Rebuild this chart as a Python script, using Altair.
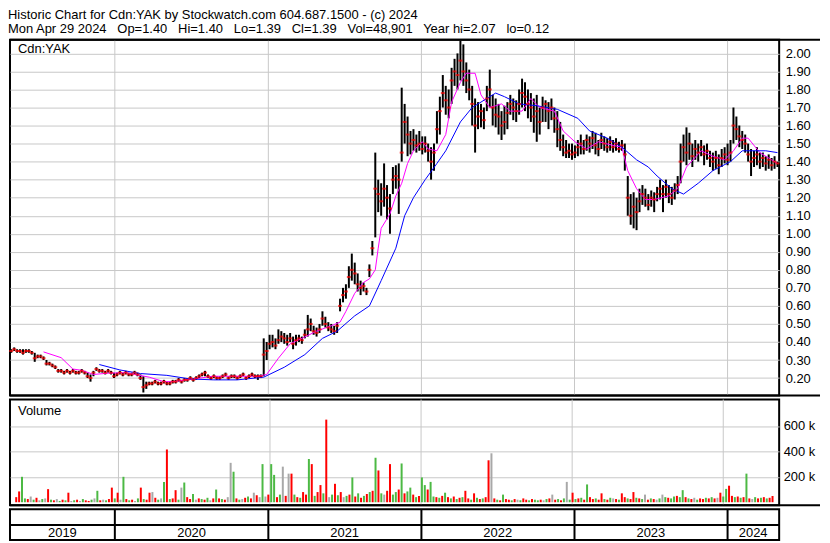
import altair as alt
import pandas as pd

start_date = "2019-04-29"

close = [
    0.35, 0.36, 0.35, 0.35, 0.34, 0.35, 0.35, 0.34, 0.31, 0.32,
    0.32, 0.31, 0.28, 0.28, 0.27, 0.26, 0.24, 0.24, 0.23, 0.24,
    0.23, 0.24, 0.23, 0.23, 0.24, 0.23, 0.21, 0.20, 0.23, 0.25,
    0.24, 0.24, 0.23, 0.24, 0.23, 0.21, 0.22, 0.23, 0.22, 0.23,
    0.22, 0.22, 0.23, 0.22, 0.20, 0.15, 0.16, 0.17, 0.17, 0.18,
    0.17, 0.17, 0.18, 0.17, 0.17, 0.18, 0.18, 0.19, 0.18, 0.19,
    0.19, 0.20, 0.19, 0.20, 0.21, 0.22, 0.23, 0.21, 0.20, 0.21,
    0.20, 0.20, 0.21, 0.22, 0.20, 0.21, 0.21, 0.20, 0.21, 0.22,
    0.20, 0.21, 0.22, 0.21, 0.21, 0.21, 0.33, 0.35, 0.39, 0.40,
    0.38, 0.41, 0.43, 0.42, 0.40, 0.42, 0.39, 0.41, 0.42, 0.41,
    0.44, 0.47, 0.50, 0.46, 0.45, 0.47, 0.53, 0.50, 0.48, 0.47,
    0.46, 0.49, 0.60, 0.66, 0.68, 0.76, 0.80, 0.78, 0.72, 0.70,
    0.71, 0.68, 0.80, 0.92, 1.25, 1.22, 1.18, 1.25, 1.20, 1.14,
    1.30, 1.32, 1.30, 1.45, 1.62, 1.55, 1.50, 1.52, 1.49, 1.50,
    1.47, 1.50, 1.46, 1.40, 1.45, 1.58, 1.68, 1.78, 1.74, 1.70,
    1.85, 1.90, 1.88, 1.96, 1.90, 1.85, 1.80, 1.72, 1.60, 1.65,
    1.68, 1.63, 1.75, 1.80, 1.70, 1.66, 1.65, 1.60, 1.62, 1.67,
    1.72, 1.70, 1.68, 1.72, 1.78, 1.76, 1.72, 1.70, 1.65, 1.68,
    1.62, 1.70, 1.72, 1.68, 1.70, 1.64, 1.58, 1.52, 1.48, 1.45,
    1.46, 1.44, 1.45, 1.48, 1.50, 1.47, 1.52, 1.50, 1.53, 1.49,
    1.47, 1.52, 1.50, 1.48, 1.51, 1.48, 1.50, 1.47, 1.49, 1.44,
    1.20, 1.10, 1.15, 1.12, 1.18, 1.22, 1.20, 1.16, 1.20, 1.19,
    1.22, 1.25, 1.22, 1.26, 1.22, 1.20, 1.24, 1.27, 1.40, 1.48,
    1.45, 1.50, 1.43, 1.47, 1.45, 1.48, 1.44, 1.46, 1.42, 1.40,
    1.42, 1.38, 1.42, 1.44, 1.41, 1.45, 1.60, 1.58, 1.54, 1.52,
    1.50, 1.44, 1.40, 1.42, 1.44, 1.40, 1.42, 1.39, 1.41, 1.38,
    1.40, 1.39,
]

high = [
    0.36, 0.37, 0.36, 0.36, 0.36, 0.36, 0.36, 0.35, 0.34, 0.33,
    0.33, 0.32, 0.30, 0.29, 0.28, 0.27, 0.25, 0.25, 0.24, 0.25,
    0.24, 0.25, 0.24, 0.24, 0.25, 0.24, 0.23, 0.22, 0.24, 0.26,
    0.25, 0.25, 0.24, 0.25, 0.24, 0.23, 0.23, 0.24, 0.23, 0.24,
    0.23, 0.23, 0.24, 0.23, 0.22, 0.21, 0.18, 0.18, 0.18, 0.19,
    0.18, 0.18, 0.19, 0.18, 0.18, 0.19, 0.19, 0.20, 0.19, 0.20,
    0.20, 0.21, 0.20, 0.21, 0.22, 0.23, 0.24, 0.22, 0.21, 0.22,
    0.21, 0.21, 0.22, 0.23, 0.21, 0.22, 0.22, 0.21, 0.22, 0.23,
    0.21, 0.22, 0.23, 0.22, 0.22, 0.22, 0.42, 0.40, 0.44, 0.44,
    0.42, 0.47, 0.46, 0.45, 0.44, 0.45, 0.43, 0.44, 0.44, 0.43,
    0.47, 0.55, 0.53, 0.49, 0.48, 0.50, 0.57, 0.54, 0.51, 0.50,
    0.49, 0.51, 0.64, 0.70, 0.72, 0.82, 0.89, 0.84, 0.78, 0.74,
    0.73, 0.70, 0.83, 0.96, 1.45, 1.30, 1.28, 1.39, 1.27, 1.22,
    1.37, 1.38, 1.39, 1.81, 1.72, 1.65, 1.57, 1.58, 1.55, 1.57,
    1.54, 1.54, 1.50, 1.48, 1.50, 1.68, 1.76, 1.88, 1.82, 1.80,
    1.92, 1.97, 2.00, 2.07, 2.05, 1.95, 1.91, 1.82, 1.75, 1.73,
    1.72, 1.70, 1.82, 1.91, 1.77, 1.75, 1.72, 1.68, 1.71, 1.73,
    1.77, 1.75, 1.74, 1.80, 1.86, 1.84, 1.80, 1.78, 1.75, 1.77,
    1.70, 1.76, 1.74, 1.73, 1.75, 1.70, 1.68, 1.62, 1.55, 1.52,
    1.50, 1.50, 1.49, 1.52, 1.55, 1.52, 1.55, 1.54, 1.57, 1.56,
    1.52, 1.56, 1.54, 1.53, 1.54, 1.52, 1.53, 1.51, 1.52, 1.50,
    1.32, 1.22, 1.23, 1.20, 1.25, 1.27, 1.25, 1.22, 1.24, 1.23,
    1.26, 1.30, 1.27, 1.30, 1.27, 1.26, 1.28, 1.32, 1.50, 1.55,
    1.59, 1.56, 1.50, 1.52, 1.50, 1.52, 1.49, 1.50, 1.46, 1.45,
    1.46, 1.44, 1.47, 1.48, 1.50, 1.52, 1.70, 1.65, 1.60, 1.57,
    1.55, 1.50, 1.47, 1.46, 1.48, 1.45, 1.45, 1.43, 1.44, 1.42,
    1.43, 1.40,
]

low = [
    0.34, 0.35, 0.34, 0.34, 0.33, 0.34, 0.34, 0.33, 0.29, 0.31,
    0.31, 0.30, 0.27, 0.27, 0.26, 0.25, 0.23, 0.23, 0.22, 0.23,
    0.22, 0.23, 0.22, 0.22, 0.23, 0.22, 0.20, 0.18, 0.21, 0.24,
    0.23, 0.23, 0.22, 0.23, 0.22, 0.20, 0.21, 0.22, 0.21, 0.22,
    0.21, 0.21, 0.22, 0.21, 0.19, 0.12, 0.14, 0.16, 0.16, 0.17,
    0.16, 0.16, 0.17, 0.16, 0.16, 0.17, 0.17, 0.18, 0.17, 0.18,
    0.18, 0.19, 0.18, 0.19, 0.20, 0.21, 0.21, 0.20, 0.19, 0.20,
    0.19, 0.19, 0.20, 0.21, 0.19, 0.20, 0.20, 0.19, 0.20, 0.21,
    0.19, 0.20, 0.21, 0.20, 0.19, 0.20, 0.21, 0.30, 0.36, 0.37,
    0.36, 0.39, 0.40, 0.39, 0.38, 0.40, 0.36, 0.38, 0.40, 0.39,
    0.42, 0.43, 0.46, 0.44, 0.43, 0.45, 0.49, 0.48, 0.46, 0.45,
    0.44, 0.45, 0.57, 0.62, 0.64, 0.70, 0.74, 0.72, 0.68, 0.66,
    0.68, 0.66, 0.76, 0.88, 0.98, 1.12, 1.10, 1.15, 1.08, 1.00,
    1.22, 1.25, 1.11, 1.40, 1.50, 1.43, 1.44, 1.46, 1.45, 1.46,
    1.44, 1.45, 1.40, 1.30, 1.35, 1.50, 1.55, 1.70, 1.66, 1.64,
    1.72, 1.82, 1.80, 1.85, 1.82, 1.78, 1.74, 1.60, 1.45, 1.58,
    1.59, 1.58, 1.68, 1.70, 1.60, 1.59, 1.55, 1.52, 1.55, 1.58,
    1.66, 1.63, 1.62, 1.66, 1.70, 1.68, 1.64, 1.62, 1.56, 1.51,
    1.55, 1.62, 1.62, 1.58, 1.63, 1.56, 1.48, 1.46, 1.43, 1.42,
    1.42, 1.41, 1.42, 1.43, 1.44, 1.44, 1.46, 1.45, 1.47, 1.44,
    1.43, 1.47, 1.46, 1.45, 1.46, 1.45, 1.46, 1.45, 1.46, 1.35,
    1.10, 1.05, 1.03, 1.02, 1.12, 1.16, 1.15, 1.13, 1.15, 1.12,
    1.18, 1.19, 1.12, 1.20, 1.17, 1.16, 1.19, 1.22, 1.28, 1.40,
    1.38, 1.41, 1.37, 1.41, 1.40, 1.43, 1.38, 1.41, 1.37, 1.35,
    1.36, 1.33, 1.37, 1.39, 1.38, 1.40, 1.50, 1.52, 1.48, 1.47,
    1.45, 1.40, 1.32, 1.37, 1.38, 1.36, 1.37, 1.35, 1.36, 1.35,
    1.36, 1.37,
]

volume_k = [
    40, 85, 200, 30, 25, 45, 20, 35, 15, 25,
    30, 103, 20, 15, 25, 10, 20, 15, 75, 10,
    15, 20, 10, 25, 15, 10, 20, 30, 90, 15,
    20, 15, 25, 115, 30, 75, 20, 200, 25, 15,
    20, 10, 30, 115, 25, 20, 75, 80, 35, 20,
    30, 160, 415, 25, 30, 95, 20, 115, 155, 40,
    25, 65, 20, 30, 25, 20, 35, 15, 30, 100,
    30, 25, 20, 40, 310, 240, 30, 20, 25, 35,
    45, 30, 75, 55, 40, 300, 45, 60, 300, 215,
    40, 60, 280, 50, 225, 225, 60, 40, 35, 80,
    60, 340, 300, 50, 80, 135, 70, 650, 40, 60,
    145, 55, 80, 40, 50, 60, 195, 45, 70, 35,
    50, 65, 80, 90, 350, 250, 70, 60, 90, 300,
    60, 80, 100, 305, 70, 85, 115, 60, 40, 50,
    195, 135, 100, 160, 45, 40, 35, 50, 75, 40,
    30, 45, 25, 35, 40, 90, 30, 20, 70, 35,
    25, 30, 40, 330, 385, 30, 20, 15, 60, 25,
    20, 15, 25, 20, 15, 30, 20, 15, 25, 20,
    15, 20, 15, 25, 30, 60, 20, 25, 15, 30,
    160, 20, 75, 25, 30, 35, 20, 140, 40, 25,
    30, 20, 70, 25, 20, 35, 30, 25, 20, 70,
    40, 30, 25, 80, 35, 30, 25, 60, 20, 30,
    25, 20, 30, 60, 40, 35, 30, 45, 50, 40,
    95, 40, 30, 25, 35, 20, 30, 25, 35, 30,
    40, 30, 35, 75, 45, 105, 130, 50, 40, 45,
    35, 40, 225, 30, 25, 40, 30, 35, 40, 30,
    35, 49,
]

# g = up day (green), r = down day (red), n = unchanged (grey)
vol_dir = list(
    "rrggrngrng" "nrgrngrgrn" "grngrrgngr" "ngrrgrngrg" "rngrgrrnrg"
    "ngrgrrgngr" "rgnrgrgnrg" "rgrnngrgnr" "grnrngnrgg" "rgnrnrgrgr"
    "rgrgrrgrng" "rgrngrgrgr" "grgrgrgnrr" "ggrgrggrgr" "ggrggrgrgr"
    "grgrgrrgrg" "rgrrnrgrgr" "rgrngrrgrg" "grngrnrgrg" "ngrgrgrgrr"
    "grrgrgnrgr" "rgrrgrgnrg" "rngngrggrg" "grgrngrrgr" "grnrggrrgr"
    "grgrngrgrg" "rr"
)

# moving averages: (week index from start, value)
fast_ma_week = [11, 17, 21, 24, 28, 33, 39, 47, 52, 55, 62, 69, 84, 87, 91, 95, 99,
                104, 109, 112, 114, 117, 120, 122, 124, 125, 126, 129, 131, 133, 135,
                137, 140, 142, 145, 148, 150, 153, 155, 158, 160, 163, 165, 167, 170,
                174, 177, 180, 185, 188, 192, 196, 200, 205, 208, 210, 213, 216, 219,
                224, 227, 230, 235, 239, 243, 246, 249, 251, 255, 259, 261]
fast_ma = [0.345, 0.313, 0.25, 0.243, 0.22, 0.227, 0.23, 0.205, 0.18, 0.18, 0.195,
           0.21, 0.21, 0.22, 0.31, 0.39, 0.42, 0.46, 0.49, 0.51, 0.57, 0.67, 0.73,
           0.75, 0.80, 0.92, 1.03, 1.11, 1.21, 1.28, 1.39, 1.46, 1.51, 1.47, 1.46,
           1.55, 1.73, 1.84, 1.89, 1.89, 1.77, 1.70, 1.71, 1.72, 1.68, 1.68, 1.75,
           1.70, 1.68, 1.57, 1.51, 1.47, 1.51, 1.49, 1.48, 1.35, 1.25, 1.19, 1.19,
           1.21, 1.25, 1.37, 1.46, 1.43, 1.41, 1.46, 1.53, 1.53, 1.45, 1.41, 1.39]

slow_ma_week = [30, 37, 44, 53, 61, 69, 77, 86, 93, 100, 106, 111, 117, 122, 126,
                131, 134, 137, 141, 145, 148, 153, 157, 162, 165, 168, 173, 179, 186,
                193, 197, 203, 208, 213, 217, 220, 225, 229, 234, 239, 245, 249, 252,
                257, 261]
slow_ma = [0.275, 0.245, 0.225, 0.215, 0.195, 0.19, 0.19, 0.205, 0.26, 0.33, 0.42,
           0.46, 0.545, 0.60, 0.74, 0.92, 1.10, 1.20, 1.30, 1.39, 1.46, 1.62, 1.70,
           1.75, 1.78, 1.76, 1.72, 1.71, 1.69, 1.64, 1.57, 1.53, 1.48, 1.41, 1.37,
           1.32, 1.25, 1.22, 1.28, 1.35, 1.40, 1.46, 1.46, 1.46, 1.45]

years = [2019, 2020, 2021, 2022, 2023, 2024]
price_ticks = [0.2, 0.3, 0.4, 0.5, 0.6, 0.7, 0.8, 0.9, 1.0, 1.1, 1.2, 1.3, 1.4,
               1.5, 1.6, 1.7, 1.8, 1.9, 2.0]
volume_ticks = [200000, 400000, 600000]

title_lines = [
    "Historic Chart for Cdn:YAK by Stockwatch.com 604.687.1500 - (c) 2024",
    "Mon Apr 29 2024\u00a0\u00a0 Op=1.40\u00a0\u00a0 Hi=1.40\u00a0\u00a0 Lo=1.39\u00a0\u00a0 "
    "Cl=1.39\u00a0\u00a0 Vol=48,901\u00a0\u00a0 Year hi=2.07\u00a0\u00a0 lo=0.12",
]

# ---------------------------------------------------------------- tables
FONT = "Liberation Sans"
W, HP, HV, HD = 772, 357, 106, 31
FULL = W + 41          # separator lines run under the label column too
GRID = "#c8c8c8"

start = pd.Timestamp(start_date)
dom_lo = pd.Timestamp("2019-04-26")
dom_hi = pd.Timestamp("2024-05-03")

dates = pd.date_range(start, periods=len(close), freq="7D")
bars = pd.DataFrame({
    "date": dates.strftime("%Y-%m-%d"),
    "high": high, "low": low, "close": close,
    "volume": [v * 1000 for v in volume_k],
    "dir": vol_dir,
})
fast_df = pd.DataFrame({
    "date": [(start + pd.Timedelta(days=7 * w)).strftime("%Y-%m-%d") for w in fast_ma_week],
    "ma": fast_ma,
})
slow_df = pd.DataFrame({
    "date": [(start + pd.Timedelta(days=7 * w)).strftime("%Y-%m-%d") for w in slow_ma_week],
    "ma": slow_ma,
})
year_starts = pd.DataFrame({"date": [f"{y}-01-01" for y in years[1:]]})
mids = []
for y in years:
    a = max(pd.Timestamp(f"{y}-01-01"), dom_lo)
    b = min(pd.Timestamp(f"{y + 1}-01-01"), dom_hi)
    mids.append((a + (b - a) / 2).strftime("%Y-%m-%d"))
year_labels = pd.DataFrame({"date": mids, "label": [str(y) for y in years]})
one_row = pd.DataFrame({"v": [0]})

xscale = alt.Scale(
    type="utc",
    domain=[alt.DateTime(year=2019, month=4, date=26, utc=True),
            alt.DateTime(year=2024, month=5, date=3, utc=True)],
)
X = alt.X("date:T", scale=xscale, axis=None)


def hline(ypix):
    return alt.Chart(one_row).mark_rule(color="black", strokeWidth=2).encode(
        x=alt.value(0), x2=alt.value(FULL), y=alt.value(ypix))


# ---------------------------------------------------------------- price panel
pscale = alt.Scale(domain=[0.103, 2.075], nice=False, zero=False)
paxis = alt.Axis(
    orient="right", values=price_ticks, format=".2f", ticks=False, domain=False,
    grid=True, gridColor=GRID, gridWidth=1, labelPadding=6, title=None)

p_years = alt.Chart(year_starts).mark_rule(color=GRID, strokeWidth=1).encode(x=X)
p_bars = alt.Chart(bars).mark_rule(color="black", strokeWidth=2).encode(
    x=X,
    y=alt.Y("low:Q", scale=pscale, axis=paxis),
    y2="high:Q",
)
p_fast = alt.Chart(fast_df).mark_line(color="#ff00ff", strokeWidth=1).encode(
    x=X, y=alt.Y("ma:Q", scale=pscale, axis=paxis))
p_slow = alt.Chart(slow_df).mark_line(color="#0000ff", strokeWidth=1).encode(
    x=X, y=alt.Y("ma:Q", scale=pscale, axis=paxis))
p_close = alt.Chart(bars).mark_tick(color="#ff0000", size=4, thickness=2,
                                    orient="horizontal").encode(
    x=X, y=alt.Y("close:Q", scale=pscale, axis=paxis))
p_label = alt.Chart(pd.DataFrame({"t": ["Cdn:YAK"]})).mark_text(
    align="left", baseline="alphabetic", font=FONT, fontSize=13, color="black"
).encode(x=alt.value(8), y=alt.value(13), text="t:N")

price = alt.layer(p_years, p_bars, p_fast, p_slow, p_close, p_label,
                  hline(0), hline(HP)).properties(width=W, height=HP)

# ---------------------------------------------------------------- volume panel
vscale = alt.Scale(domain=[-23000, 808000], nice=False, zero=False)
v_years = alt.Chart(year_starts).mark_rule(color=GRID, strokeWidth=1).encode(x=X)
v_bars = alt.Chart(bars).mark_bar(size=2).encode(
    x=X,
    y=alt.Y("volume:Q", scale=vscale, axis=alt.Axis(
        orient="right", values=volume_ticks, labelExpr="datum.value / 1000 + ' k'",
        ticks=False, domain=False, grid=True, gridColor=GRID, gridWidth=1,
        labelPadding=4, title=None)),
    y2=alt.value(HV),
    color=alt.Color("dir:N", scale=alt.Scale(domain=["g", "r", "n"],
                                             range=["#4cb944", "#ff0000", "#a8a8a8"]),
                    legend=None),
)
v_label = alt.Chart(pd.DataFrame({"t": ["Volume"]})).mark_text(
    align="left", baseline="alphabetic", font=FONT, fontSize=13, color="black"
).encode(x=alt.value(8), y=alt.value(16), text="t:N")
volume = alt.layer(v_years, v_bars, v_label, hline(HV)).properties(width=W, height=HV)

# ---------------------------------------------------------------- date band
d_years = alt.Chart(year_starts).mark_rule(color="black", strokeWidth=2).encode(x=X)
d_line = alt.Chart(one_row).mark_rule(color="black", strokeWidth=2).encode(
    x=alt.value(0), x2=alt.value(W), y=alt.value(16))
d_text = alt.Chart(year_labels).mark_text(
    font=FONT, fontSize=13, color="black", baseline="middle", align="center"
).encode(x=X, y=alt.value(24), text="label:N")
band = alt.layer(d_years, d_line, d_text).properties(width=W, height=HD)

chart = alt.vconcat(price, volume, band, spacing=0).properties(
    title=alt.TitleParams(
        text=title_lines, anchor="start", font=FONT, fontSize=13, fontWeight="normal",
        color="black", lineHeight=14, offset=2),
    padding={"left": 0, "top": 0, "right": 0, "bottom": 0},
).configure_view(
    stroke="black", strokeWidth=2
).configure_axis(
    labelFont=FONT, labelFontSize=13, labelColor="black"
).configure_concat(spacing=0)

chart.save("out.html", embed_options={"renderer": "svg", "actions": False})
